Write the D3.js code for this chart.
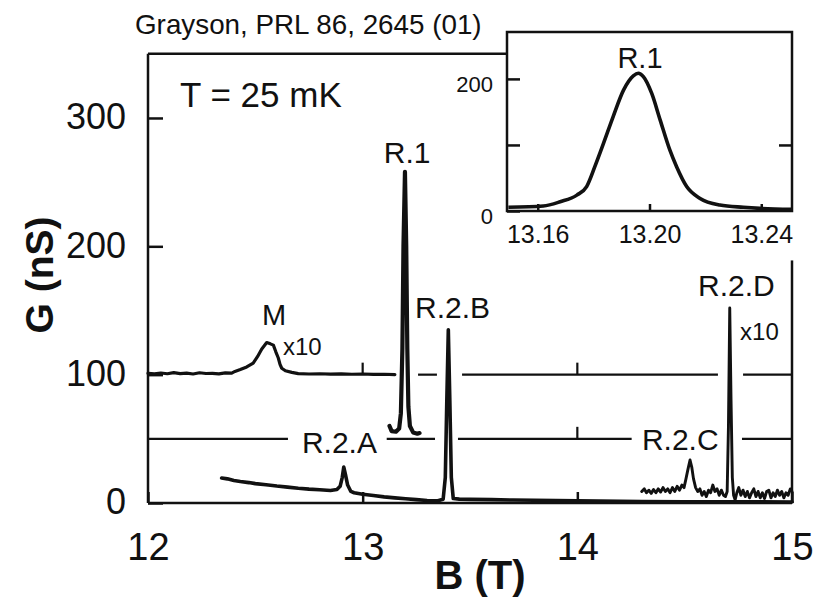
<!DOCTYPE html>
<html>
<head>
<meta charset="utf-8">
<script src="https://cdn.jsdelivr.net/npm/d3@7"></script>
<style>
  body { margin: 0; background: #fff; }
  svg { display: block; }
</style>
</head>
<body>
<div id="chart"></div>
<script>
// traces, [B (T), G (nS)]
var lowTrace = [
  [12.343, 19.5], [12.37, 18.8], [12.40, 17.6], [12.43, 16.8], [12.47, 15.9], [12.50, 15.1],
  [12.55, 14.2], [12.60, 13.2], [12.65, 12.4], [12.70, 11.5], [12.75, 10.8], [12.80, 10.3],
  [12.85, 9.8], [12.88, 10.5], [12.895, 13], [12.905, 20], [12.912, 28], [12.92, 22],
  [12.93, 14], [12.945, 9], [12.96, 8], [13.0, 6.8], [13.05, 5.8], [13.1, 4.8], [13.15, 4.0],
  [13.2, 3.3], [13.25, 2.6], [13.3, 2.0], [13.35, 1.8], [13.375, 3], [13.385, 20],
  [13.392, 80], [13.399, 135], [13.406, 80], [13.413, 20], [13.422, 3.5], [13.45, 3.0],
  [13.5, 2.8], [13.6, 2.6], [13.7, 2.3], [13.8, 2.1], [13.9, 1.9], [14.0, 1.7], [14.1, 1.5],
  [14.2, 1.3], [14.3, 1.1], [14.5, 1.0], [14.7, 0.9], [15.0, 0.8]
];

// R.1 shown offset by 50
var r1Trace = [
  [13.125, 60], [13.135, 56], [13.155, 55.5], [13.17, 58], [13.178, 70], [13.185, 120],
  [13.19, 200], [13.197, 258], [13.203, 200], [13.208, 120], [13.213, 75], [13.22, 60],
  [13.235, 55], [13.255, 54], [13.265, 54.5]
];

// x10 trace, offset by 100
var mTrace = [
  [12.0, 101], [12.03, 100.6], [12.06, 101.3], [12.09, 100.7], [12.12, 101.6], [12.15, 100.8],
  [12.18, 101.2], [12.21, 100.5], [12.24, 101.5], [12.27, 100.9], [12.30, 101.0], [12.33, 100.6],
  [12.36, 101.4], [12.39, 101.2], [12.405, 102.5], [12.43, 104], [12.46, 106], [12.49, 109],
  [12.51, 114], [12.53, 120], [12.553, 125], [12.57, 124], [12.584, 123], [12.595, 118],
  [12.607, 113], [12.615, 108], [12.623, 105], [12.64, 103], [12.67, 101.8], [12.70, 100.8],
  [12.75, 100.5], [12.80, 100.7], [12.85, 100.4], [12.90, 100.6], [12.95, 100.3], [13.0, 100.5],
  [13.05, 100.2], [13.10, 100.3], [13.15, 100.1]
];

// x10 trace at high field
var highTrace = [
  [14.300, 9], [14.312, 11], [14.322, 8], [14.333, 10], [14.344, 7.5], [14.355, 10.5],
  [14.366, 8], [14.377, 11], [14.388, 8.5], [14.399, 12], [14.410, 9], [14.421, 11],
  [14.432, 8], [14.443, 12], [14.454, 9], [14.465, 13], [14.476, 10], [14.487, 14],
  [14.497, 12], [14.505, 18], [14.515, 26], [14.525, 33.5], [14.533, 28], [14.541, 19],
  [14.551, 12], [14.561, 9], [14.571, 11], [14.581, 6], [14.591, 9], [14.601, 5],
  [14.611, 10], [14.621, 8], [14.631, 14], [14.641, 9], [14.651, 11], [14.661, 6],
  [14.671, 10], [14.681, 6], [14.690, 5], [14.698, 9], [14.704, 60], [14.710, 152],
  [14.716, 80], [14.722, 20], [14.728, 6], [14.735, 2.5], [14.743, 8], [14.752, 12],
  [14.762, 6], [14.772, 10], [14.782, 5], [14.792, 9], [14.802, 4], [14.812, 8],
  [14.822, 11], [14.832, 5], [14.842, 9], [14.852, 4], [14.862, 8], [14.872, 3.5],
  [14.882, 9], [14.892, 10], [14.902, 4], [14.912, 8], [14.922, 5], [14.932, 10],
  [14.942, 6], [14.952, 9], [14.962, 4], [14.972, 8], [14.982, 6], [14.992, 11], [15.0, 9]
];

// inset: R.1 at full resolution
var insetTrace = [
  [13.1495, 5.6], [13.162, 7.6], [13.168, 14], [13.174, 24], [13.1775, 37], [13.1805, 68],
  [13.1835, 102], [13.187, 143], [13.1907, 183], [13.1942, 204.5], [13.196, 208.6],
  [13.1978, 203.5], [13.2008, 178], [13.2038, 138], [13.2073, 92], [13.2097, 67],
  [13.2133, 37], [13.2181, 19], [13.2252, 9], [13.2336, 5.6], [13.2395, 4], [13.251, 2.6]
];

// baselines of the offset traces, drawn in pieces (B ranges)
var ref100 = [[13.258, 13.346], [13.463, 14.655], [14.772, 15]];
var ref50 = [[12, 12.652], [13.112, 13.337], [13.444, 14.253], [14.767, 15]];
var ref100Ticks = [13, 14];
var ref50Ticks = [14];

var xTicks = [12, 13, 14, 15];
var yTicks = [0, 100, 200, 300];
var insetXTicks = [13.16, 13.20, 13.24];
var insetYTicks = [0, 200];

var labels = [
  { text: 'T = 25 mK', b: 12.149, g: 308.6, size: 35, anchor: 'start' },
  { text: 'R.1', b: 13.207, g: 265, size: 30, anchor: 'middle' },
  { text: 'R.2.B', b: 13.244, g: 144, size: 30, anchor: 'start' },
  { text: 'M', b: 12.531, g: 138.7, size: 29, anchor: 'start' },
  { text: 'x10', b: 12.629, g: 115, size: 24, anchor: 'start' },
  { text: 'R.2.A', b: 12.717, g: 39, size: 30, anchor: 'start' },
  { text: 'R.2.C', b: 14.301, g: 41.3, size: 30, anchor: 'start' },
  { text: 'R.2.D', b: 14.562, g: 161, size: 30, anchor: 'start' },
  { text: 'x10', b: 14.758, g: 127, size: 24, anchor: 'start' }
];

var width = 820,
    height = 601;

var fontFamily = '"Liberation Sans", Arial, Helvetica, sans-serif';
var ink = '#111';

var x = d3.scaleLinear().domain([12, 15]).range([148, 792]);
var y = d3.scaleLinear().domain([0, 350]).range([503, 53.8]);

var ix = d3.scaleLinear().domain([13.149, 13.251]).range([507, 792]);
var iy = d3.scaleLinear().domain([0, 271]).range([211, 32]);

var svg = d3.select('#chart')
  .append('svg')
  .attr('width', width)
  .attr('height', height)
  .style('font-family', fontFamily);

var line = d3.line()
  .x(function(d) { return x(d[0]); })
  .y(function(d) { return y(d[1]); });

// frame of the main panel
var frame = svg.append('g')
  .attr('stroke', ink)
  .attr('stroke-width', 2.5)
  .attr('fill', 'none');
frame.append('line')
  .attr('x1', x(12)).attr('y1', y(0))
  .attr('x2', x(12)).attr('y2', y(350));
frame.append('line')
  .attr('x1', x(12)).attr('y1', y(350))
  .attr('x2', ix.range()[0]).attr('y2', y(350));
frame.append('line')
  .attr('x1', x(12)).attr('y1', y(0))
  .attr('x2', x(15)).attr('y2', y(0));
frame.append('line')
  .attr('x1', x(15)).attr('y1', y(0))
  .attr('x2', x(15)).attr('y2', y(189));

// axes
var xAxis = svg.append('g')
  .attr('transform', 'translate(0,' + y(0) + ')')
  .call(d3.axisBottom(x).tickValues(xTicks).tickFormat(d3.format('d'))
    .tickSizeInner(-11).tickSizeOuter(0).tickPadding(30));
var yAxis = svg.append('g')
  .attr('transform', 'translate(' + x(12) + ',0)')
  .call(d3.axisLeft(y).tickValues(yTicks).tickFormat(d3.format('d'))
    .tickSizeInner(-15).tickSizeOuter(0).tickPadding(22));

[xAxis, yAxis].forEach(function(a) {
  a.select('.domain').remove();
  a.selectAll('.tick line').attr('stroke', ink).attr('stroke-width', 2.5);
  a.selectAll('.tick text')
    .attr('fill', ink)
    .style('font-family', fontFamily);
});
xAxis.selectAll('.tick text').style('font-size', '38px');
yAxis.selectAll('.tick text').style('font-size', '36px').attr('dy', '0.3em');

// offset baselines with their ticks
function drawBaseline(level, segments, ticks) {
  var g = svg.append('g')
    .attr('stroke', ink)
    .attr('stroke-width', 2.2);
  g.selectAll('line.seg')
    .data(segments)
    .enter().append('line')
    .attr('class', 'seg')
    .attr('x1', function(d) { return x(d[0]); })
    .attr('x2', function(d) { return x(d[1]); })
    .attr('y1', y(level))
    .attr('y2', y(level));
  g.selectAll('line.tk')
    .data(ticks)
    .enter().append('line')
    .attr('class', 'tk')
    .attr('x1', function(d) { return x(d); })
    .attr('x2', function(d) { return x(d); })
    .attr('y1', y(level))
    .attr('y2', y(level) - 12);
}
drawBaseline(100, ref100, ref100Ticks);
drawBaseline(50, ref50, ref50Ticks);

// traces
var traces = [
  { data: mTrace, w: 3.2 },
  { data: lowTrace, w: 3.6 },
  { data: highTrace, w: 2.9 },
  { data: r1Trace, w: 4.2 }
];
svg.selectAll('path.trace')
  .data(traces)
  .enter().append('path')
  .attr('class', 'trace')
  .attr('d', function(d) { return line(d.data); })
  .attr('fill', 'none')
  .attr('stroke', ink)
  .attr('stroke-width', function(d) { return d.w; })
  .attr('stroke-linejoin', 'round')
  .attr('stroke-linecap', 'round');

// peak labels
svg.selectAll('text.lbl')
  .data(labels)
  .enter().append('text')
  .attr('class', 'lbl')
  .attr('x', function(d) { return x(d.b); })
  .attr('y', function(d) { return y(d.g); })
  .attr('text-anchor', function(d) { return d.anchor; })
  .attr('font-size', function(d) { return d.size + 'px'; })
  .attr('fill', ink)
  .text(function(d) { return d.text; });

// citation line
svg.append('text')
  .attr('x', 135)
  .attr('y', 34)
  .attr('font-size', '27.8px')
  .attr('fill', ink)
  .text('Grayson, PRL 86, 2645 (01)');

// axis titles
svg.append('text')
  .attr('x', 480)
  .attr('y', 589)
  .attr('text-anchor', 'middle')
  .attr('font-size', '40px')
  .attr('font-weight', 'bold')
  .attr('fill', ink)
  .text('B (T)');
svg.append('text')
  .attr('transform', 'translate(53,275) rotate(-90)')
  .attr('text-anchor', 'middle')
  .attr('font-size', '39px')
  .attr('font-weight', 'bold')
  .attr('fill', ink)
  .text('G (nS)');

// inset
var inset = svg.append('g');
inset.append('rect')
  .attr('x', ix.range()[0])
  .attr('y', iy.range()[1])
  .attr('width', ix.range()[1] - ix.range()[0])
  .attr('height', iy.range()[0] - iy.range()[1])
  .attr('fill', '#fff')
  .attr('stroke', ink)
  .attr('stroke-width', 2.5);

var ixAxis = inset.append('g')
  .attr('transform', 'translate(0,' + iy.range()[0] + ')')
  .call(d3.axisBottom(ix).tickValues(insetXTicks).tickFormat(d3.format('.2f'))
    .tickSizeInner(-7).tickSizeOuter(0).tickPadding(14));
var iyAxis = inset.append('g')
  .attr('transform', 'translate(' + ix.range()[0] + ',0)')
  .call(d3.axisLeft(iy).tickValues([0, 100, 200]).tickFormat(function(d) {
      return insetYTicks.indexOf(d) >= 0 ? d : '';
    })
    .tickSizeInner(-13).tickSizeOuter(0).tickPadding(14));
var iyRight = inset.append('g')
  .attr('transform', 'translate(' + ix.range()[1] + ',0)')
  .call(d3.axisRight(iy).tickValues([100]).tickFormat('')
    .tickSizeInner(-13).tickSizeOuter(0));

[ixAxis, iyAxis, iyRight].forEach(function(a) {
  a.select('.domain').remove();
  a.selectAll('.tick line').attr('stroke', ink).attr('stroke-width', 2.5);
  a.selectAll('.tick text').attr('fill', ink).style('font-family', fontFamily);
});
ixAxis.selectAll('.tick text').style('font-size', '25px');
iyAxis.selectAll('.tick text').style('font-size', '22px').attr('dy', '0.55em');

var insetLine = d3.line()
  .x(function(d) { return ix(d[0]); })
  .y(function(d) { return iy(d[1]); })
  .curve(d3.curveMonotoneX);
inset.append('path')
  .attr('d', insetLine(insetTrace))
  .attr('fill', 'none')
  .attr('stroke', ink)
  .attr('stroke-width', 3.6)
  .attr('stroke-linejoin', 'round');

inset.append('text')
  .attr('x', ix(13.1966))
  .attr('y', iy(216.7))
  .attr('text-anchor', 'middle')
  .attr('font-size', '29px')
  .attr('fill', ink)
  .text('R.1');
</script>
</body>
</html>
